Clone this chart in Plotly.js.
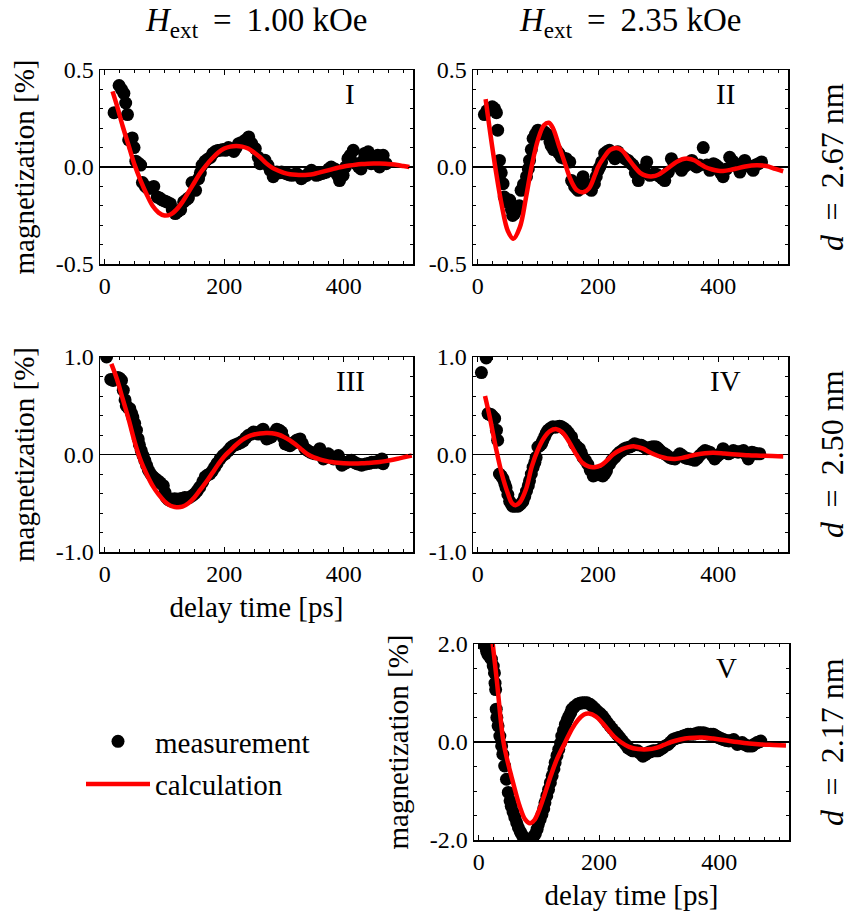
<!DOCTYPE html>
<html>
<head>
<meta charset="utf-8">
<script src="https://cdn.plot.ly/plotly-3.0.1.min.js"></script>
<style>html,body{margin:0;padding:0;background:#fff;}#chart{width:849px;height:911px;}</style>
</head>
<body>
<div id="chart"></div>
<script>
// ---------- data: [delay time (ps), magnetization (%)] ----------
const measI = [[15.6,0.28],[24,0.42],[28,0.40],[32,0.38],[35,0.33],[38,0.27],[40,0.14],[46,0.15],[49,0.10],[52,0.03],[56,0.02],[60,0.01],[63,-0.08],[68,-0.10],[72,-0.11],[77,-0.11],[82,-0.10],[88,-0.155],[92,-0.16],[96,-0.17],[100,-0.175],[104,-0.18],[110,-0.19],[113,-0.22],[118,-0.24],[122,-0.23],[127,-0.22],[132,-0.18],[136,-0.17],[140,-0.16],[146,-0.08],[152,-0.12],[157,-0.06],[160,-0.03],[163,0.01],[168,0.03],[172,0.04],[177,0.05],[181,0.07],[185,0.08],[189,0.085],[193,0.086],[198,0.09],[202,0.086],[207,0.10],[212,0.09],[216,0.08],[220,0.10],[224,0.12],[228,0.125],[232,0.13],[236,0.14],[241,0.155],[246,0.12],[252,0.095],[257,0.05],[260,0.017],[264,0.03],[268,0.035],[273,0.01],[277,-0.017],[282,-0.05],[288,-0.026],[292,-0.03],[296,-0.026],[300,-0.03],[304,-0.034],[308,-0.04],[313,-0.043],[317,-0.04],[321,-0.034],[325,-0.045],[329,-0.06],[333,-0.05],[338,-0.043],[342,-0.03],[346,-0.017],[350,-0.03],[354,-0.043],[358,-0.04],[363,-0.034],[367,-0.03],[371,-0.026],[375,-0.01],[379,0.0],[385,-0.01],[389,-0.04],[393,-0.07],[399,-0.043],[403,0.0],[407,0.043],[411,0.06],[416,0.086],[421,0.017],[425,0.0],[429,-0.01],[432,0.03],[435,0.07],[441,0.078],[446,0.017],[449,0.02],[452,0.035],[457,0.06],[460,0.0],[463,0.04],[466,0.06],[471,0.017]];
const calcI = [[13,0.39],[20,0.32],[30,0.21],[40,0.11],[50,0.01],[60,-0.07],[70,-0.14],[80,-0.20],[90,-0.235],[100,-0.25],[110,-0.245],[120,-0.22],[130,-0.18],[140,-0.13],[150,-0.08],[160,-0.03],[170,0.01],[180,0.045],[190,0.075],[200,0.095],[210,0.105],[220,0.108],[230,0.105],[240,0.095],[250,0.075],[260,0.05],[270,0.02],[280,-0.003],[290,-0.018],[300,-0.03],[310,-0.037],[320,-0.04],[330,-0.041],[340,-0.04],[350,-0.036],[360,-0.028],[370,-0.02],[380,-0.012],[390,-0.004],[400,0.003],[410,0.008],[420,0.012],[430,0.015],[440,0.017],[450,0.018],[460,0.018],[470,0.017],[480,0.014],[490,0.01],[500,0.005],[510,0.0]];

const measII = [[11,0.27],[15,0.29],[19,0.30],[24,0.31],[28,0.30],[31,0.28],[33,0.19],[36,0.034],[39,-0.03],[42,-0.086],[44,-0.155],[47,-0.18],[50,-0.17],[53,-0.17],[56,-0.22],[58,-0.25],[61,-0.24],[64,-0.22],[67,-0.21],[69,-0.20],[72,-0.12],[76,-0.09],[81,-0.05],[84,-0.01],[86,0.034],[89,0.09],[92,0.147],[96,0.17],[100,0.19],[103,0.18],[106,0.17],[111,0.18],[114,0.17],[117,0.164],[120,0.13],[122,0.11],[126,0.09],[131,0.086],[135,0.07],[139,0.05],[143,0.045],[147,0.043],[153,0.026],[156,-0.07],[161,-0.10],[164,-0.11],[167,-0.12],[171,-0.09],[175,-0.05],[178,-0.08],[181,-0.10],[185,-0.11],[189,-0.12],[194,-0.086],[197,-0.05],[200,-0.017],[203,0.0],[206,0.026],[211,0.07],[215,0.08],[219,0.086],[224,0.06],[228,0.043],[233,0.078],[237,0.06],[242,0.05],[246,0.04],[250,0.034],[254,0.02],[258,0.01],[262,-0.03],[267,-0.07],[272,-0.034],[276,-0.01],[281,0.026],[286,-0.043],[290,-0.04],[294,-0.034],[299,-0.04],[303,-0.05],[307,-0.06],[311,-0.07],[317,-0.026],[322,0.043],[326,0.02],[331,0.01],[335,0.0],[339,-0.017],[343,0.0],[347,0.01],[352,0.02],[356,0.034],[360,0.01],[364,0.0],[369,0.01],[375,0.10],[381,0.01],[386,-0.017],[392,0.017],[396,0.01],[400,0.0],[404,-0.03],[408,-0.05],[414,-0.01],[419,0.05],[424,0.03],[428,0.017],[432,0.0],[436,-0.026],[440,0.01],[444,0.034],[449,0.01],[453,0.0],[458,-0.017],[462,0.01],[467,0.017],[472,0.026]];
const calcII = [[13,0.35],[20,0.19],[30,-0.02],[40,-0.20],[50,-0.33],[59,-0.37],[70,-0.31],[80,-0.16],[90,0.01],[100,0.14],[110,0.215],[118,0.228],[125,0.20],[135,0.11],[147,0.0],[155,-0.07],[165,-0.12],[175,-0.13],[185,-0.11],[195,-0.04],[200,0.0],[210,0.05],[220,0.088],[231,0.098],[240,0.085],[250,0.045],[261,0.0],[270,-0.03],[280,-0.045],[291,-0.048],[300,-0.04],[310,-0.02],[319,0.0],[330,0.025],[340,0.04],[350,0.043],[360,0.035],[370,0.015],[378,0.0],[390,-0.013],[400,-0.019],[408,-0.02],[420,-0.015],[430,-0.008],[445,0.003],[464,0.009],[480,0.005],[495,-0.01],[508,-0.022]];

const measIII = [[3,1.0],[10,0.77],[14,0.76],[18,0.78],[22,0.79],[25,0.78],[28,0.76],[31,0.66],[34,0.56],[36,0.50],[39,0.48],[42,0.47],[45,0.42],[47,0.38],[50,0.32],[53,0.25],[56,0.16],[58,0.10],[61,0.04],[64,-0.01],[67,-0.06],[70,-0.11],[73,-0.16],[77,-0.20],[81,-0.23],[85,-0.25],[89,-0.27],[93,-0.29],[98,-0.32],[101,-0.39],[103,-0.44],[106,-0.46],[109,-0.47],[113,-0.46],[117,-0.455],[121,-0.46],[126,-0.455],[130,-0.45],[134,-0.44],[138,-0.445],[142,-0.44],[147,-0.42],[151,-0.40],[155,-0.37],[159,-0.335],[164,-0.28],[168,-0.23],[172,-0.21],[176,-0.20],[180,-0.17],[184,-0.13],[188,-0.09],[193,-0.045],[198,-0.01],[202,0.01],[207,0.04],[211,0.07],[215,0.09],[219,0.10],[223,0.11],[228,0.125],[232,0.14],[236,0.17],[240,0.195],[245,0.21],[249,0.23],[253,0.22],[257,0.21],[261,0.24],[265,0.26],[268,0.21],[271,0.16],[275,0.17],[279,0.18],[283,0.22],[288,0.26],[292,0.25],[296,0.23],[299,0.17],[302,0.11],[306,0.10],[310,0.09],[314,0.11],[318,0.13],[322,0.15],[327,0.16],[331,0.11],[335,0.06],[340,0.04],[344,0.024],[348,0.015],[352,0.007],[356,0.03],[360,0.06],[363,0.01],[366,-0.045],[370,-0.02],[374,0.007],[379,-0.02],[383,-0.045],[387,-0.03],[391,-0.01],[394,-0.06],[397,-0.11],[401,-0.095],[405,-0.08],[409,-0.07],[413,-0.06],[418,-0.08],[422,-0.095],[426,-0.10],[430,-0.11],[435,-0.10],[439,-0.095],[443,-0.09],[447,-0.08],[451,-0.08],[455,-0.08],[460,-0.06],[464,-0.045],[466,-0.095]];
const calcIII = [[11,0.93],[20,0.78],[30,0.57],[40,0.36],[50,0.13],[60,-0.06],[70,-0.20],[80,-0.32],[90,-0.41],[100,-0.48],[110,-0.525],[120,-0.54],[130,-0.535],[140,-0.50],[150,-0.44],[160,-0.36],[170,-0.28],[180,-0.19],[190,-0.10],[200,-0.02],[210,0.04],[220,0.10],[230,0.15],[240,0.185],[250,0.205],[260,0.215],[270,0.22],[280,0.218],[290,0.205],[300,0.18],[310,0.145],[320,0.10],[330,0.05],[340,0.0],[350,-0.03],[360,-0.05],[370,-0.065],[380,-0.077],[390,-0.085],[400,-0.09],[410,-0.092],[420,-0.092],[430,-0.09],[440,-0.087],[450,-0.083],[460,-0.077],[470,-0.068],[480,-0.057],[490,-0.044],[500,-0.03],[514,-0.01]];

const measIV = [[6,0.84],[14,0.99],[17,0.42],[20,0.41],[22,0.41],[25,0.39],[28,0.37],[31,0.25],[33,0.146],[36,-0.20],[39,-0.22],[42,-0.25],[45,-0.30],[47,-0.34],[50,-0.41],[53,-0.48],[56,-0.51],[58,-0.53],[62,-0.53],[67,-0.53],[71,-0.51],[75,-0.48],[78,-0.43],[81,-0.375],[84,-0.32],[86,-0.27],[89,-0.20],[92,-0.13],[95,-0.08],[97,-0.03],[100,0.077],[103,0.09],[106,0.11],[108,0.14],[111,0.18],[114,0.22],[117,0.25],[121,0.27],[125,0.285],[129,0.28],[133,0.285],[136,0.29],[139,0.285],[143,0.27],[147,0.25],[151,0.22],[156,0.18],[161,0.11],[165,0.08],[169,0.06],[172,0.02],[175,-0.03],[179,-0.06],[183,-0.10],[187,-0.16],[192,-0.22],[196,-0.21],[200,-0.20],[204,-0.21],[208,-0.22],[211,-0.20],[214,-0.17],[219,-0.10],[223,-0.06],[228,-0.03],[232,0.0],[236,0.024],[240,0.04],[244,0.06],[248,0.07],[253,0.077],[257,0.09],[261,0.11],[266,0.10],[272,0.094],[276,0.08],[281,0.06],[285,0.07],[289,0.077],[293,0.08],[297,0.077],[300,0.06],[303,0.04],[307,0.02],[311,0.007],[315,-0.01],[319,-0.03],[323,-0.04],[328,-0.045],[332,-0.02],[336,0.007],[340,-0.01],[344,-0.03],[348,-0.04],[353,-0.045],[357,-0.05],[361,-0.06],[365,-0.04],[369,-0.01],[374,0.02],[378,0.04],[382,0.03],[386,0.024],[390,-0.01],[394,-0.045],[398,-0.02],[403,0.007],[408,0.06],[412,0.03],[417,0.007],[421,0.02],[425,0.04],[429,0.03],[433,0.024],[437,0.03],[442,0.04],[446,0.0],[450,-0.045],[453,-0.01],[456,0.024],[460,0.015],[464,0.007],[469,0.007]];
const calcIV = [[12,0.60],[20,0.38],[30,0.07],[40,-0.20],[50,-0.40],[57,-0.50],[63,-0.52],[70,-0.49],[80,-0.36],[90,-0.12],[100,0.05],[110,0.17],[120,0.24],[131,0.26],[140,0.23],[150,0.15],[164,0.0],[175,-0.09],[185,-0.125],[194,-0.13],[205,-0.11],[215,-0.06],[225,0.0],[240,0.055],[250,0.076],[261,0.083],[275,0.06],[285,0.025],[294,0.0],[305,-0.025],[315,-0.04],[328,-0.045],[340,-0.035],[350,-0.02],[364,0.0],[378,0.013],[392,0.017],[410,0.01],[430,0.0],[450,-0.008],[470,-0.012],[490,-0.016],[508,-0.02]];

const measV = [[10,1.96],[13,1.85],[15,1.79],[18,1.74],[21,1.69],[24,1.55],[26,1.41],[27,1.2],[28,1.07],[29,0.67],[30,0.5],[32,0.33],[35,0.12],[38,-0.08],[40,-0.25],[43,-0.49],[46,-0.76],[49,-1.03],[52,-1.2],[54,-1.31],[57,-1.43],[60,-1.54],[63,-1.65],[66,-1.75],[69,-1.83],[71,-1.88],[74,-1.94],[77,-1.99],[81,-2.02],[85,-1.99],[89,-1.95],[94,-1.88],[97,-1.78],[99,-1.68],[102,-1.58],[105,-1.48],[108,-1.36],[110,-1.24],[113,-1.1],[116,-0.97],[119,-0.83],[122,-0.69],[125,-0.55],[127,-0.42],[130,-0.28],[133,-0.15],[136,-0.02],[138,0.12],[141,0.24],[144,0.36],[147,0.45],[150,0.53],[153,0.6],[155,0.67],[159,0.72],[164,0.77],[168,0.79],[172,0.80],[176,0.80],[180,0.80],[185,0.77],[189,0.73],[193,0.68],[197,0.63],[202,0.58],[206,0.53],[210,0.46],[214,0.39],[218,0.33],[222,0.27],[227,0.2],[231,0.14],[235,0.08],[239,0.02],[244,-0.05],[248,-0.12],[252,-0.15],[256,-0.18],[260,-0.18],[264,-0.18],[268,-0.23],[273,-0.29],[277,-0.26],[281,-0.22],[285,-0.2],[290,-0.18],[294,-0.18],[298,-0.18],[302,-0.15],[306,-0.12],[310,-0.08],[315,-0.05],[319,0.0],[323,0.05],[327,0.07],[332,0.09],[336,0.1],[340,0.12],[344,0.14],[348,0.16],[352,0.16],[357,0.16],[361,0.17],[365,0.19],[369,0.19],[374,0.19],[378,0.17],[382,0.16],[386,0.16],[390,0.16],[395,0.12],[399,0.09],[403,0.07],[407,0.05],[412,0.03],[416,0.02],[420,0.03],[424,0.05],[427,0.0],[430,-0.05],[434,-0.03],[438,-0.01],[442,-0.05],[447,-0.08],[451,-0.08],[455,-0.08],[459,-0.04],[463,-0.01],[466,0.0],[469,0.02]];
const calcV = [[20,2.35],[30,1.25],[41,0.0],[50,-0.5],[54,-0.69],[60,-0.97],[68,-1.31],[77,-1.58],[85,-1.66],[92,-1.60],[100,-1.40],[110,-1.05],[120,-0.68],[130,-0.35],[144,0.0],[155,0.27],[165,0.45],[175,0.56],[183,0.58],[195,0.52],[205,0.40],[215,0.25],[225,0.11],[236,0.0],[250,-0.10],[265,-0.145],[281,-0.15],[295,-0.12],[308,-0.06],[320,0.0],[335,0.05],[350,0.08],[371,0.09],[390,0.07],[410,0.035],[430,0.0],[450,-0.03],[470,-0.05],[490,-0.06],[511,-0.07]];

const xTickVals = [0, 200, 400];
const xTickText = ['0', '200', '400'];
const yTickValsA = [-0.5, 0, 0.5];
const yTickTextA = ['-0.5', '0.0', '0.5'];
const yTickValsB = [-1, 0, 1];
const yTickTextB = ['-1.0', '0.0', '1.0'];
const yTickValsC = [-2, 0, 2];
const yTickTextC = ['-2.0', '0.0', '2.0'];
const panelNames = ['I', 'II', 'III', 'IV', 'V'];
const fieldLabels = ['1.00', '2.35'];
const thicknessLabels = ['2.67', '2.50', '2.17'];

// ---------- layout helpers ----------
const W = 849, H = 911;
const FONT = 'Liberation Serif';
const px = x => x / W;
const py = y => 1 - y / H;

const panels = [
  {meas: measI,   calc: calcI,   x: [100, 413], y: [70, 264],  yr: [-0.5, 0.5], tv: yTickValsA, tt: yTickTextA, minor: 0.1, ytitle: true,  xtitle: false},
  {meas: measII,  calc: calcII,  x: [473, 788], y: [70, 264],  yr: [-0.5, 0.5], tv: yTickValsA, tt: yTickTextA, minor: 0.1, ytitle: false, xtitle: false},
  {meas: measIII, calc: calcIII, x: [100, 413], y: [357, 552], yr: [-1, 1],     tv: yTickValsB, tt: yTickTextB, minor: 0.2, ytitle: true,  xtitle: true},
  {meas: measIV,  calc: calcIV,  x: [473, 788], y: [357, 552], yr: [-1, 1],     tv: yTickValsB, tt: yTickTextB, minor: 0.2, ytitle: false, xtitle: false},
  {meas: measV,   calc: calcV,   x: [474, 789], y: [644, 840], yr: [-2, 2],     tv: yTickValsC, tt: yTickTextC, minor: 0.5, ytitle: true,  xtitle: true}
];

const traces = [];
const layout = {
  width: W, height: H,
  margin: {l: 0, r: 0, t: 0, b: 0},
  paper_bgcolor: '#fff', plot_bgcolor: '#fff',
  font: {family: FONT, color: '#000'},
  showlegend: true,
  legend: {
    x: px(81), y: py(716), xanchor: 'left', yanchor: 'top',
    font: {family: FONT, size: 29, color: '#000'},
    bgcolor: 'rgba(0,0,0,0)', borderwidth: 0, itemwidth: 64, tracegroupgap: 2
  },
  annotations: []
};

const baseAxis = {
  showline: true, mirror: 'allticks', linecolor: '#000', linewidth: 1.5,
  ticks: 'inside', ticklen: 5, tickwidth: 1, tickcolor: '#000',
  showgrid: false, tickfont: {family: FONT, size: 24, color: '#000'},
  fixedrange: true
};

panels.forEach((p, i) => {
  const n = i + 1;
  const xa = 'x' + (n === 1 ? '' : n), ya = 'y' + (n === 1 ? '' : n);
  traces.push({
    type: 'scatter', mode: 'markers', xaxis: xa, yaxis: ya,
    x: p.meas.map(d => d[0]), y: p.meas.map(d => d[1]),
    marker: {color: '#000', size: 13},
    name: 'measurement', legendgroup: 'm', showlegend: i === 0
  });
  traces.push({
    type: 'scatter', mode: 'lines', xaxis: xa, yaxis: ya,
    x: p.calc.map(d => d[0]), y: p.calc.map(d => d[1]),
    line: {color: '#ff0000', width: 4.5, shape: 'spline', smoothing: 1},
    name: 'calculation', legendgroup: 'c', showlegend: i === 0
  });
  const xKey = 'xaxis' + (n === 1 ? '' : n), yKey = 'yaxis' + (n === 1 ? '' : n);
  const xa_ = Object.assign({}, baseAxis, {
    domain: [px(p.x[0]), px(p.x[1])], anchor: ya, range: [-8, 516],
    zeroline: false, tickmode: 'array', tickvals: xTickVals, ticktext: xTickText,
    minor: {tickmode: 'linear', tick0: 0, dtick: 25, ticks: 'inside', ticklen: 3, tickcolor: '#000', showgrid: false}
  });
  if (p.xtitle) xa_.title = {text: 'delay time [ps]', font: {family: FONT, size: 29, color: '#000'}, standoff: 10};
  const ya_ = Object.assign({}, baseAxis, {
    domain: [py(p.y[1]), py(p.y[0])], anchor: xa, range: p.yr,
    zeroline: true, zerolinecolor: '#000', zerolinewidth: 1.5,
    tickmode: 'array', tickvals: p.tv, ticktext: p.tt,
    minor: {tickmode: 'linear', tick0: 0, dtick: p.minor, ticks: 'inside', ticklen: 3, tickcolor: '#000', showgrid: false}
  });
  if (p.ytitle) ya_.title = {text: 'magnetization [%]', font: {family: FONT, size: 29, color: '#000'}, standoff: 12};
  layout[xKey] = xa_;
  layout[yKey] = ya_;
  layout.annotations.push({
    xref: 'paper', yref: 'paper', x: px(p.x[1] - 63), y: py(p.y[0] + 24),
    text: panelNames[i], showarrow: false, xanchor: 'center', yanchor: 'middle',
    font: {family: FONT, size: 29, color: '#000'}
  });
});

// column headers (external field)
[256, 630].forEach((cx, i) => {
  layout.annotations.push({
    xref: 'paper', yref: 'paper', x: px(cx), y: py(23), xanchor: 'center', yanchor: 'middle',
    text: '<i>H</i><sub>ext</sub>\u2009 = \u2009' + fieldLabels[i] + ' kOe', showarrow: false,
    font: {family: FONT, size: 33, color: '#000'}
  });
});
// row labels (thickness)
[167, 454, 742].forEach((cy, i) => {
  layout.annotations.push({
    xref: 'paper', yref: 'paper', x: px(832), y: py(cy), xanchor: 'center', yanchor: 'middle',
    text: '<i>d</i>\u2009 = \u2009' + thicknessLabels[i] + ' nm', showarrow: false, textangle: -90,
    font: {family: FONT, size: 32, color: '#000'}
  });
});

Plotly.newPlot('chart', traces, layout, {staticPlot: true, displayModeBar: false});
</script>
</body>
</html>
